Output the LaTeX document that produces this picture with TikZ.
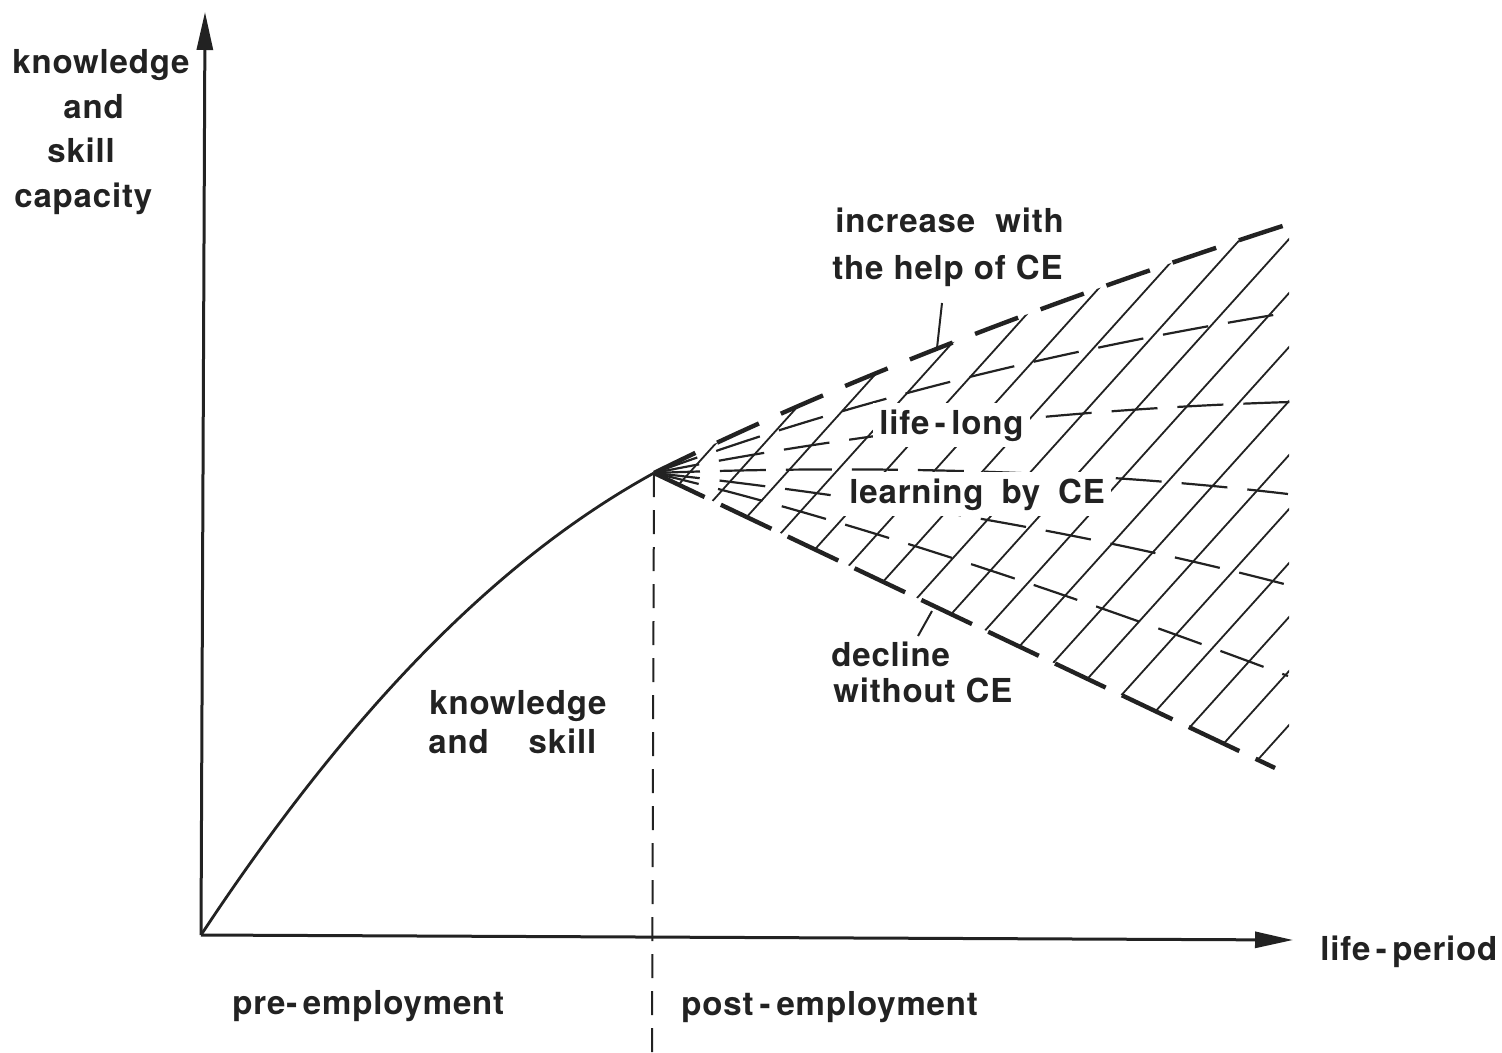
\documentclass[tikz,border=0pt]{standalone}
\usepackage{fontspec}
\setmainfont{TeX Gyre Heros}[LetterSpace=2.5]
\usetikzlibrary{arrows.meta,calc}
\definecolor{ink}{HTML}{222222}
\begin{document}
\begin{tikzpicture}[x=0.5pt,y=-0.5pt,
  lbl/.style={font=\fontsize{16.5}{19}\selectfont\bfseries, inner sep=0pt, anchor=base west, text=ink},
  blank/.style={lbl, fill=white, inner xsep=3pt, inner ysep=3pt},
  axis/.style={draw=ink, line width=1.5pt, -{Triangle[length=19pt,width=8pt]}},
  curve/.style={draw=ink, line width=1.4pt},
  guide/.style={draw=ink, line width=1pt, dash pattern=on 12pt off 6.5pt},
  bound/.style={draw=ink, line width=2.2pt},
  ray/.style={draw=ink, line width=1.1pt, dash pattern=on 23pt off 10pt},
  hatch/.style={draw=ink, line width=0.9pt},
  leader/.style={draw=ink, line width=1pt}]
\useasboundingbox (0,0) rectangle (1502,1053);

% axes and growth curve
\coordinate (O) at (201,935);
\coordinate (ytip) at (205,12);
\coordinate (xtip) at (1293,940);
\coordinate (apex) at (654,473);
\coordinate (vb) at (652,1053);
\draw[axis] (O) -- (ytip);
\draw[axis] (O) -- (xtip);
\draw[curve] (O) .. controls (353,705) and (501,557) .. (apex);
\draw[guide] (apex) -- (vb);

% fan of futures: end points and quadratic control points
\coordinate (e1) at (1295,222);  \coordinate (q1) at (912,345);
\coordinate (e2) at (1292,312);  \coordinate (q2) at (936,369);
\coordinate (e3) at (1290,402);  \coordinate (q3) at (961,412);
\coordinate (e4) at (1288,494);  \coordinate (q4) at (1000,460);
\coordinate (e5) at (1288,585);  \coordinate (q5) at (1010,512);
\coordinate (e6) at (1288,676);  \coordinate (q6) at (904,532);
\coordinate (e7) at (1275,768);

% hatching between the upper and lower bounds
\begin{scope}
  \clip (apex) -- (e7) -- (1289,763) -- (1289,236) -- (e1)
    .. controls ($(e1)!2/3!(q1)$) and ($(apex)!2/3!(q1)$) .. (apex) -- cycle;
  \foreach \n in {-8,...,9}
    \draw[hatch] ({490},{238+54*\n+888}) -- ({1310},{238+54*\n-22.2});
\end{scope}

% dashed trajectories
\draw[bound, dash pattern=on 23pt off 12pt]
  (apex) .. controls ($(apex)!2/3!(q1)$) and ($(e1)!2/3!(q1)$) .. (e1);
\foreach \i in {2,...,6}
  \draw[ray] (apex) .. controls ($(apex)!2/3!(q\i)$) and ($(e\i)!2/3!(q\i)$) .. (e\i);
\draw[bound, dash pattern=on 28pt off 9pt] (apex) -- (e7);

% leaders
\coordinate (l1a) at (937,348); \coordinate (l1b) at (942,303);
\coordinate (l2a) at (932,611); \coordinate (l2b) at (918,636);
\draw[leader] (l1a) -- (l1b);
\draw[leader] (l2a) -- (l2b);

% labels
\node[lbl] (ya) at (12,74) {knowledge};
\node[lbl] (yb) at (63,119) {and};
\node[lbl] (yc) at (47,163) {skill};
\node[lbl] (yd) at (14,208) {capacity};
\node[lbl] (xl) at (1320,960) {life\,-\,period};
\node[lbl] (inc1) at (835,233) {increase\hspace{5pt} with};
\node[lbl] (inc2) at (832,280) {the help of CE};
\node[blank] (ll) at (873,434) {life\,-\,long};
\node[blank] (lc) at (843,503) {learning\hspace{4pt} by\hspace{4pt} CE};
\node[lbl] (d1) at (831,666) {decline};
\node[lbl] (d2) at (833,702) {without CE};
\node[lbl] (ks1) at (429,714) {knowledge};
\node[lbl] (ks2) at (428,753) {and\hspace{20pt}skill};
\node[lbl] (pre) at (232,1014) {pre-\,employment};
\node[lbl] (post) at (681,1015) {post\hspace{3pt}-\hspace{3pt}employment};
\end{tikzpicture}
\end{document}
